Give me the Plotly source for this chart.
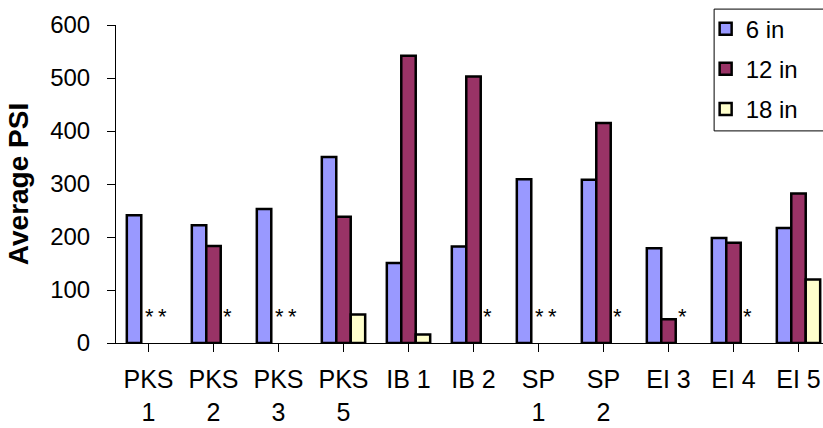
import plotly.graph_objects as go

# Sites (two-line tick labels) and average PSI per probe depth
sites = ["PKS<br>1", "PKS<br>2", "PKS<br>3", "PKS<br>5", "IB 1", "IB 2",
         "SP<br>1", "SP<br>2", "EI 3", "EI 4", "EI 5"]
psi_6in = [241, 222, 253, 351, 151, 182, 309, 308, 179, 198, 217]
psi_12in = [None, 183, None, 238, 542, 503, None, 415, 45, 189, 282]
psi_18in = [None, None, None, 54, 16, None, None, None, None, None, 120]

# Markers for missing depth readings
missing_marks = ["**", "*", "**", "", "", "*", "**", "*", "*", "*", ""]

series = [
    ("6 in", psi_6in, "#9999FF"),
    ("12 in", psi_12in, "#993366"),
    ("18 in", psi_18in, "#FFFFCC"),
]

FONT = "Liberation Sans, Arial, sans-serif"

fig = go.Figure()
for name, vals, color in series:
    fig.add_trace(go.Bar(
        name=name, x=list(range(len(sites))), y=vals,
        marker=dict(color=color, line=dict(color="black", width=2.5)),
        legendgroup=name,
    ))

# Asterisk notes: single marks sit in the 18 in slot, double marks between slots
for i, mark in enumerate(missing_marks):
    if not mark:
        continue
    offset = 0.22 if mark == "*" else 0.11
    text = "*\u2009*" if mark == "**" else "*"
    fig.add_annotation(
        x=i + offset, y=50, xref="x", yref="y", text=text, showarrow=False,
        font=dict(family=FONT, size=22, color="black"),
        xanchor="center", yanchor="middle",
    )

# Legend frame
fig.add_shape(type="rect", xref="paper", yref="paper",
              x0=0.846, x1=1.05, y0=0.667, y1=1.050,
              line=dict(color="black", width=1), fillcolor="rgba(0,0,0,0)")

fig.update_layout(
    width=823, height=428,
    margin=dict(l=116, r=0, t=25, b=85),
    paper_bgcolor="white", plot_bgcolor="white",
    barmode="group", bargap=0.333, bargroupgap=0,
    font=dict(family=FONT, color="black"),
    showlegend=True,
    legend=dict(
        x=0.834, y=1.058, xanchor="left", yanchor="top",
        font=dict(family=FONT, size=24, color="black"),
        bgcolor="rgba(0,0,0,0)", borderwidth=0,
        tracegroupgap=6, itemwidth=30,
    ),
    xaxis=dict(
        tickmode="array", tickvals=list(range(len(sites))), ticktext=sites,
        range=[-0.5, -0.5 + 707 / 65],
        showline=True, linecolor="black", linewidth=1,
        ticks="outside", ticklen=8, tickcolor="black", tickwidth=1,
        tickson="boundaries", ticklabelstandoff=6,
        tickfont=dict(family=FONT, size=25, color="black"),
        showgrid=False, zeroline=False, automargin=False,
    ),
    yaxis=dict(
        range=[0, 600], dtick=100, tick0=0,
        showline=True, linecolor="black", linewidth=1,
        ticks="outside", ticklen=8, tickcolor="black", tickwidth=1,
        ticklabelstandoff=12,
        tickfont=dict(family=FONT, size=24, color="black"),
        showgrid=False, zeroline=False, automargin=False,
        title=dict(text="<b>Average PSI</b>", standoff=13,
                   font=dict(family=FONT, size=28, color="black")),
    ),
)

fig.write_html("out.html")
